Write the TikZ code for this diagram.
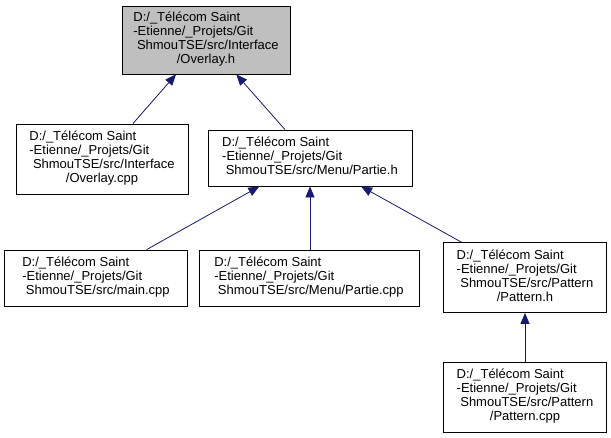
\documentclass[tikz,border=0pt]{standalone}
\usepackage{fontspec}
\setmainfont{Liberation Sans}
\usetikzlibrary{arrows.meta}
\definecolor{edgeblue}{RGB}{25,25,112}
\definecolor{rootgray}{RGB}{191,191,191}
\newcommand{\dxfour}[4]{\begin{tabular}{@{}l@{}}#1\\#2\\#3\\\multicolumn{1}{@{}c@{}}{#4}\end{tabular}}
\newcommand{\dxthree}[3]{\begin{tabular}{@{}l@{}}#1\\#2\\\multicolumn{1}{@{}c@{}}{#3}\end{tabular}}
\tikzset{
  filebox/.style={draw=black, line width=0.8pt, fill=white, inner sep=0pt,
    font=\fontsize{13}{14}\selectfont},
  rootbox/.style={filebox, fill=rootgray},
  dep/.style={draw=edgeblue, line width=0.8pt, -{Triangle[length=11pt,width=9pt]}}
}
\begin{document}
\begin{tikzpicture}[x=1pt,y=-1pt]
\useasboundingbox[fill=white] (0,0) rectangle (611,437);
\node[rootbox, minimum width=168pt, minimum height=68pt] (n1) at (206,40)
  {\dxfour{D:/\_Télécom Saint}{-Etienne/\_Projets/Git}{\ ShmouTSE/src/Interface}{/Overlay.h}};
\node[filebox, minimum width=172pt, minimum height=70pt] (n2) at (102,159)
  {\dxfour{D:/\_Télécom Saint}{-Etienne/\_Projets/Git}{\ ShmouTSE/src/Interface}{/Overlay.cpp}};
\node[filebox, minimum width=204pt, minimum height=56pt] (n3) at (310,158)
  {\dxthree{D:/\_Télécom Saint}{-Etienne/\_Projets/Git}{\ ShmouTSE/src/Menu/Partie.h}};
\node[filebox, minimum width=183pt, minimum height=56pt] (n4) at (96,278)
  {\dxthree{D:/\_Télécom Saint}{-Etienne/\_Projets/Git}{\ ShmouTSE/src/main.cpp}};
\node[filebox, minimum width=220pt, minimum height=56pt] (n5) at (309,278)
  {\dxthree{D:/\_Télécom Saint}{-Etienne/\_Projets/Git}{\ ShmouTSE/src/Menu/Partie.cpp}};
\node[filebox, minimum width=163pt, minimum height=70pt] (n6) at (525,277.5)
  {\dxfour{D:/\_Télécom Saint}{-Etienne/\_Projets/Git}{\ ShmouTSE/src/Pattern}{/Pattern.h}};
\node[filebox, minimum width=163pt, minimum height=70pt] (n7) at (525,397)
  {\dxfour{D:/\_Télécom Saint}{-Etienne/\_Projets/Git}{\ ShmouTSE/src/Pattern}{/Pattern.cpp}};
\draw[dep] (n2) -- (n1);
\draw[dep] (n3) -- (n1);
\draw[dep] (n4) -- (n3);
\draw[dep] (n5.north -| n3.south) -- (n3.south);
\draw[dep] (n6) -- (n3);
\draw[dep] (n7) -- (n6);
\end{tikzpicture}
\end{document}
